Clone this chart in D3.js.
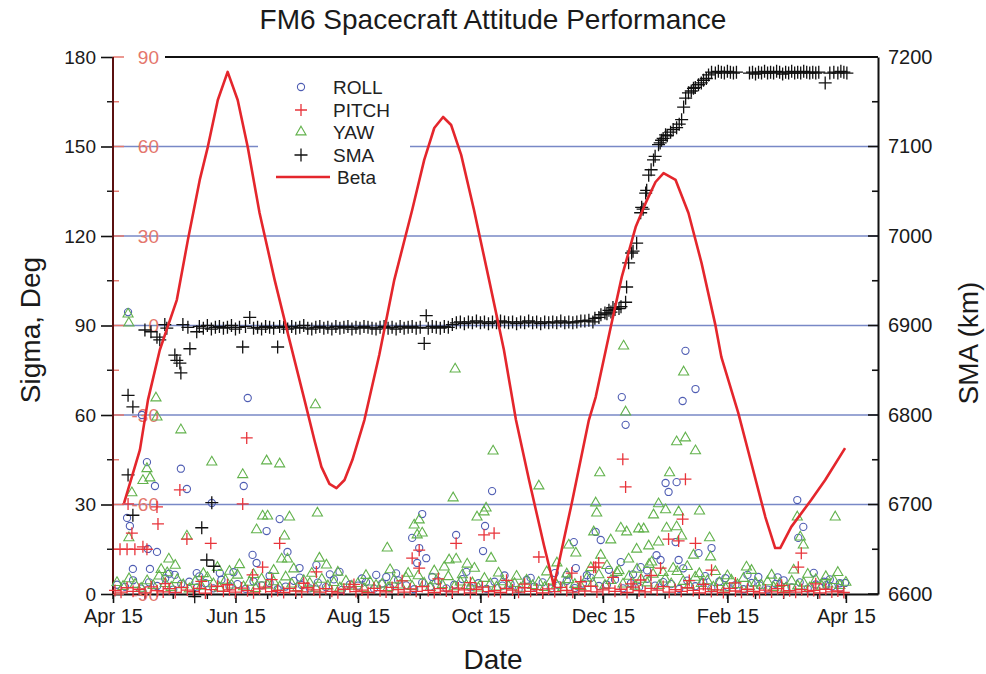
<!DOCTYPE html>
<html>
<head>
<meta charset="utf-8">
<script src="https://cdn.jsdelivr.net/npm/d3@7"></script>
<style>
  body { margin: 0; background: #fff; }
  svg { display: block; }
  text { font-family: "Liberation Sans", Arial, Helvetica, sans-serif; }
</style>
</head>
<body>
<svg id="chart" width="986" height="674"></svg>
<script>
// ---- Data -------------------------------------------------------------
// Day offsets are counted from the first date of the time axis (Apr 15).
const axisStart = "2009-04-15";
const axisEnd = "2010-05-01";
const xTickDates = ["2009-04-15", "2009-06-15", "2009-08-15", "2009-10-15", "2009-12-15", "2010-02-15", "2010-04-15"];
const xTickLabels = ["Apr 15", "Jun 15", "Aug 15", "Oct 15", "Dec 15", "Feb 15", "Apr 15"];
const sigmaTicks = [0, 30, 60, 90, 120, 150, 180];
const betaTicks = [-90, -60, -30, 0, 30, 60, 90];
const smaTicks = [6600, 6700, 6800, 6900, 7000, 7100, 7200];

// Beta angle (deg) — [day, beta]
const betaSeries = [
  [5.5, -59.5], [13.4, -41.7], [17.4, -25], [23.3, -8.2], [31.8, 8.6], [37.3, 28.7], [43.2, 48.8],
  [47.2, 59.8], [52.2, 75.6], [57.1, 85], [62.1, 75.6], [67.1, 59.8], [73.0, 37.7], [80.5, 15.3],
  [87.9, -4.9], [95.4, -25], [100.3, -38.4], [103.8, -47.4], [107.8, -53.1], [111.3, -54.5],
  [115.3, -51.8], [119.2, -45.1], [125.2, -31.7], [132.6, -9.9], [140.1, 15.3], [149.0, 38.7],
  [155.0, 55.5], [160.0, 66.2], [164.4, 69.9], [168.4, 67.2], [173.4, 57.2], [179.8, 38.7],
  [187.3, 15.3], [194.7, -8.2], [200.7, -31.7], [207.2, -51.8], [214.6, -73.6], [219.6, -87.3],
  [224.5, -71.9], [228.5, -59.5], [237.0, -31.7], [240.4, -24], [247.9, -0.5], [253.4, 16.3],
  [260.3, 33], [265.3, 41.1], [270.2, 48.1], [274.2, 51.1], [280.2, 48.8], [286.6, 37.7],
  [293.1, 21], [300.0, 0.2], [303.0, -10.6], [311.4, -29.3], [317.9, -46.1], [324.9, -64.2],
  [329.8, -74.6], [332.3, -74.6], [337.8, -67.5], [347.7, -58.5], [354.7, -51.8], [364.6, -41.1]
];

// Semi-major axis (km) — [day, km]
const smaSeries = [
  [7.5, 6822], [9.9, 6809], [7.5, 6733], [9.9, 6688], [15.9, 6895], [18.9, 6893], [21.9, 6887],
  [23.3, 6884], [25.8, 6901], [26.8, 6897], [30.8, 6867], [31.8, 6861], [33.3, 6858], [33.8, 6847],
  [34.8, 6901], [37.3, 6898], [38.3, 6874], [40.7, 6597], [41.7, 6893], [44.2, 6674], [46.7, 6638],
  [49.2, 6702], [50.2, 6631],
  [43, 6899], [45, 6897], [47, 6900], [49, 6896], [51, 6898], [53, 6899], [55, 6897], [57, 6898],
  [59, 6900], [61, 6896], [63, 6898], [64.6, 6876], [66, 6899], [68.1, 6909], [70, 6897], [72, 6898],
  [74, 6896], [76, 6899], [78, 6898], [80, 6897], [82, 6876], [83, 6899], [85, 6898], [87, 6896],
  [89, 6899], [91, 6897], [93, 6898], [95, 6900], [97, 6897], [99, 6896], [101, 6898], [103, 6899],
  [105, 6897], [107, 6898], [109, 6896], [111, 6899], [113, 6897], [115, 6898], [117, 6899],
  [119, 6896], [121, 6898], [123, 6897], [125, 6899], [127, 6898], [129, 6897], [131, 6896],
  [133, 6898], [135, 6899], [137, 6897], [139, 6898], [141, 6896], [143, 6899], [145, 6897],
  [147, 6898], [149, 6899], [151, 6897], [153, 6898], [155, 6880], [156, 6911], [157, 6897],
  [159, 6899], [161, 6898], [163, 6897], [165, 6899], [167, 6898], [169, 6901],
  [171, 6903], [173, 6904], [175, 6902], [177, 6904], [179, 6903], [181, 6905], [183, 6903],
  [185, 6904], [187, 6902], [189, 6904], [191, 6903], [193, 6905], [195, 6904], [197, 6903],
  [199, 6904], [201, 6902], [203, 6904], [205, 6903], [207, 6905], [209, 6903], [211, 6904],
  [213, 6902], [215, 6904], [217, 6903], [219, 6904], [221, 6903], [223, 6905], [225, 6903],
  [227, 6904], [229, 6903], [231, 6904], [233, 6905],
  [235, 6905], [237, 6906], [239, 6904], [240, 6908], [242, 6909], [243, 6912], [245, 6914],
  [246, 6913], [247, 6917], [248, 6915], [249, 6920], [250, 6918], [252, 6919], [253, 6921],
  [255.3, 6926], [255.8, 6943], [256.8, 6970], [258.3, 6981], [259, 6983], [260.8, 6992],
  [262.8, 7026], [263.3, 7032], [264, 7030], [265.3, 7048], [265.8, 7051], [266.8, 7068],
  [268, 7074], [269.2, 7085], [270, 7089], [271.7, 7102], [272.5, 7104], [273.2, 7107],
  [274, 7109], [275.2, 7113], [276, 7112], [277.7, 7116], [279, 7119], [280.7, 7121], [282, 7125],
  [283.2, 7130], [284.2, 7144], [285.2, 7154], [286.6, 7160], [288, 7162], [289.1, 7165],
  [290, 7166], [291.6, 7169], [293, 7171], [294.1, 7174], [295.5, 7176], [296.6, 7180], [298.1, 7183],
  [300, 7182], [301.5, 7184], [303, 7183], [304.5, 7182], [306, 7184], [307.5, 7183], [309, 7182],
  [310.5, 7183], [317, 7182], [318.5, 7183], [320, 7181], [321.5, 7183], [323, 7182], [324.5, 7184],
  [326, 7182], [327.5, 7183], [329, 7182], [330.5, 7184], [332, 7183], [333.5, 7181], [335, 7183],
  [336.5, 7182], [338, 7184], [339.5, 7182], [341, 7183], [342.5, 7182], [344, 7184], [345.5, 7183],
  [347, 7182], [348.5, 7183], [350, 7182], [351.5, 7183], [354.7, 7171], [357, 7182], [359, 7183],
  [361, 7182], [362.5, 7184], [364, 7183], [365.5, 7182]
];

// Roll sigma (deg) — [day, sigma]
const rollSeries = [
  [7.5, 94.5], [14.4, 60], [16.9, 44.2], [20.9, 36.2], [33.8, 42], [36.8, 35.2], [7.0, 25.5],
  [8.4, 22.8], [9.9, 8.4], [17.4, 15.1], [21.9, 14.1], [18.4, 8.4], [30.8, 6.4], [67.1, 65.7],
  [65.1, 36.2], [49.2, 30.5], [69.5, 13.1], [71.5, 10.4], [76.5, 21.1], [83.0, 25.1], [86.9, 14.1],
  [92.9, 8.7], [101.3, 9.7], [112.8, 7.4], [41.7, 7], [53.2, 7], [188.8, 34.5], [154.0, 26.8],
  [170.9, 19.8], [185.3, 22.8], [184.3, 14.4], [149.0, 18.8], [152.5, 15.4], [156.0, 12],
  [151.5, 10.4], [229.5, 17.4], [230.5, 8.7], [226.0, 6.4], [131.1, 6.4], [136.1, 5.7],
  [285.1, 81.5], [253.4, 66], [283.7, 64.7], [290.1, 68.7], [255.3, 56.7], [275.2, 37.2],
  [280.7, 37.5], [276.7, 34.2], [240.4, 20.8], [242.9, 18.1], [252.9, 10.7], [262.8, 9],
  [270.7, 13], [272.7, 11.4], [280.2, 17.4], [281.7, 11.4], [298.1, 15.4], [291.6, 13.7],
  [321.4, 5.7], [340.8, 31.5], [343.8, 22.5], [341.3, 18.8], [362.1, 2], [364.6, 3.7], [355.2, 3],
  [28, 6.8], [43, 5.9], [60, 7.3], [78, 6.1], [93, 5.5], [108, 6.6], [124, 5.2], [141, 6.9],
  [159, 5.7], [176, 7.4], [195, 6.2], [208, 5.4], [220, 7.0], [236, 6.3], [247, 8.1], [259, 6.6],
  [266, 7.9], [284, 8.6], [295, 6.0], [305, 5.3], [316, 6.4], [331, 5.6], [349, 7.1], [357, 4.9],
  [2, 3.1], [6, 2.4], [10, 4.6], [14, 1.8], [18, 3.9], [22, 2.7], [26, 5.2], [30, 1.5], [34, 3.4],
  [38, 4.1], [42, 2.2], [46, 3.6], [50, 1.9], [54, 4.8], [58, 2.6], [62, 3.3], [66, 1.7], [70, 4.2],
  [74, 2.9], [78, 3.7], [82, 1.6], [86, 2.5], [90, 4.4], [94, 3.0], [98, 1.9], [102, 3.8],
  [106, 2.3], [110, 4.9], [114, 1.4], [118, 3.2], [122, 2.8], [126, 4.0], [130, 1.8], [134, 3.5],
  [138, 2.1], [142, 4.6], [146, 2.9], [150, 1.6], [154, 3.8], [158, 2.4], [162, 4.3], [166, 1.9],
  [170, 3.1], [174, 5.0], [178, 2.2], [182, 3.6], [186, 1.7], [190, 4.1], [194, 2.8], [198, 3.3],
  [202, 1.5], [206, 4.7], [210, 2.5], [214, 3.9], [218, 1.8], [222, 2.9], [226, 4.4], [230, 2.0],
  [234, 3.5], [238, 5.4], [242, 2.7], [246, 3.1], [250, 4.8], [254, 1.9], [258, 3.6], [262, 2.3],
  [266, 5.1], [270, 2.8], [274, 4.0], [278, 3.3], [282, 1.7], [286, 4.5], [290, 2.6], [294, 3.8],
  [298, 1.9], [302, 4.2], [306, 2.4], [310, 3.0], [314, 1.6], [318, 3.7], [322, 2.9], [326, 1.5],
  [330, 3.4], [334, 4.6], [338, 2.2], [342, 3.9], [346, 1.8], [350, 3.2], [354, 4.1], [358, 2.5],
  [362, 3.6]
];

// Pitch sigma (deg) — [day, sigma]
const pitchSeries = [
  [66.6, 52.3], [64.6, 30.2], [33.3, 34.9], [21.9, 29.2], [22.4, 23.5], [7.5, 30.2], [9.4, 20.4],
  [3.5, 15], [7.0, 15], [10.9, 15], [14.9, 15.8], [16.9, 15], [36.8, 18.4], [48.7, 17], [83.0, 17],
  [101.3, 7.4], [74.5, 9], [69.5, 6.4], [212.1, 12.4], [184.8, 19.8], [189.8, 20.4], [170.9, 17],
  [152.5, 14.7], [149.0, 12], [152.5, 8.7], [228.5, 7], [240.4, 9], [253.9, 45.2], [255.3, 35.9],
  [285.1, 38.5], [283.7, 25.1], [276.7, 18.4], [281.7, 17.8], [290.1, 17], [241.9, 10.4],
  [239.4, 9], [272.7, 8.7], [298.1, 8], [262.8, 4.7], [342.8, 13.7], [341.3, 9],
  [26, 3.5], [44, 4.2], [57, 3.1], [79, 4.8], [95, 3.6], [120, 3.2], [144, 4.4], [162, 5.1],
  [178, 3.8], [196, 4.6], [205, 3.3], [233, 4.1], [249, 5.6], [258, 3.4], [268, 6.2], [287, 4.5],
  [294, 3.2], [310, 3.7], [333, 2.9], [350, 3.4],
  [1, 1.2], [4, 0.6], [7, 2.1], [10, 0.9], [13, 1.6], [16, 0.4], [19, 2.4], [22, 1.1], [25, 0.7],
  [28, 1.8], [31, 0.5], [34, 2.2], [37, 1.3], [40, 0.8], [43, 1.9], [46, 0.3], [49, 1.5], [52, 2.6],
  [55, 0.9], [58, 1.4], [61, 0.6], [64, 2.0], [67, 1.1], [70, 0.4], [73, 1.7], [76, 2.3], [79, 0.8],
  [82, 1.2], [85, 0.5], [88, 1.9], [91, 1.0], [94, 0.7], [97, 2.1], [100, 1.4], [103, 0.6],
  [106, 1.8], [109, 0.9], [112, 0.4], [115, 1.6], [118, 2.4], [121, 0.8], [124, 1.3], [127, 0.5],
  [130, 1.9], [133, 1.1], [136, 0.7], [139, 2.2], [142, 1.5], [145, 0.6], [148, 1.7], [151, 0.9],
  [154, 2.5], [157, 1.2], [160, 0.5], [163, 1.8], [166, 1.0], [169, 0.7], [172, 2.0], [175, 1.4],
  [178, 0.4], [181, 1.6], [184, 2.3], [187, 0.8], [190, 1.1], [193, 0.5], [196, 1.9], [199, 1.3],
  [202, 0.6], [205, 2.1], [208, 0.9], [211, 1.5], [214, 0.4], [217, 1.7], [220, 0.8], [223, 2.2],
  [226, 1.2], [229, 0.6], [232, 1.8], [235, 1.0], [238, 2.6], [241, 0.7], [244, 1.4], [247, 2.0],
  [250, 0.9], [253, 1.6], [256, 0.5], [259, 2.3], [262, 1.1], [265, 0.7], [268, 1.9], [271, 1.3],
  [274, 2.5], [277, 0.6], [280, 1.5], [283, 0.9], [286, 2.1], [289, 1.2], [292, 0.4], [295, 1.7],
  [298, 0.8], [301, 1.4], [304, 0.5], [307, 1.9], [310, 1.0], [313, 0.6], [316, 1.6], [319, 0.9],
  [322, 0.4], [325, 1.3], [328, 0.7], [331, 1.8], [334, 0.5], [337, 1.1], [340, 0.6], [343, 1.5],
  [346, 0.8], [349, 1.2], [352, 0.4], [355, 1.6], [358, 0.7], [361, 1.0], [364, 0.5]
];

// Yaw sigma (deg) — [day, sigma]
const yawSeries = [
  [7.5, 93.8], [7.9, 90.8], [21.4, 65.7], [21.9, 59.3], [33.8, 55], [16.9, 42], [14.9, 38],
  [18.4, 38.9], [9.4, 33.9], [7.9, 18.8], [36.8, 19.4], [49.2, 44.2], [64.6, 40], [71.5, 21.5],
  [76.5, 44.6], [83.0, 43.6], [74.5, 26.1], [77.0, 26.1], [87.9, 25.8], [101.8, 27.1],
  [100.8, 63.4], [85.4, 19.4], [84.0, 11.7], [86.9, 11.7], [102.8, 12], [106.3, 9.7], [27.8, 11.7],
  [189.3, 47.9], [170.4, 75.4], [169.4, 32.2], [212.1, 36.2], [185.8, 28.8], [184.8, 27.5],
  [181.3, 25.8], [152.5, 24.8], [150.0, 23.1], [154.0, 20.4], [151.5, 19.8], [136.6, 15.4],
  [188.3, 12], [167.4, 11.4], [170.9, 11.7], [176.4, 10], [230.5, 13.7], [227.0, 16.4],
  [221.1, 10.4], [254.3, 83.1], [284.2, 74.4], [255.3, 61], [280.7, 51], [285.1, 52.3],
  [290.1, 48], [242.4, 40.6], [277.2, 40.6], [240.4, 30.5], [240.9, 27.1], [271.7, 30.2],
  [275.2, 28.2], [281.7, 27.5], [292.1, 27.8], [269.2, 26.5], [239.4, 20.8], [247.9, 18.1],
  [252.9, 22.1], [255.8, 20.8], [261.8, 21.8], [264.3, 21.8], [275.7, 22.1], [280.7, 22.5],
  [283.2, 19.4], [297.1, 18.8], [260.8, 15], [266.8, 16.1], [271.7, 17.4], [256.8, 11.7],
  [268.3, 10.7], [289.1, 13], [297.6, 12.4], [242.9, 13], [315.5, 9], [340.8, 25.8], [359.7, 25.8],
  [342.3, 19.1], [343.8, 16.4],
  [24, 8.2], [27, 7.1], [31, 9.6], [45, 6.8], [52, 8.9], [58, 7.6], [63, 9.8], [70, 6.5], [80, 7.9],
  [90, 8.4], [99, 6.9], [112, 7.3], [126, 6.2], [138, 8.1], [147, 6.9], [160, 7.7], [165, 9.0],
  [174, 6.4], [180, 8.6], [192, 7.0], [201, 5.9], [216, 7.4], [226, 6.7], [238, 8.8], [246, 9.5],
  [252, 7.8], [261, 8.3], [267, 9.9], [274, 7.2], [279, 8.6], [286, 9.2], [292, 6.8], [300, 7.5],
  [306, 6.1], [318, 7.9], [328, 6.3], [339, 8.0], [346, 6.6], [355, 5.8], [361, 7.2],
  [2, 3.8], [5, 2.5], [8, 5.1], [11, 3.2], [14, 1.9], [17, 4.4], [20, 2.8], [23, 6.0], [26, 3.5],
  [29, 2.2], [32, 4.8], [35, 3.1], [38, 1.7], [41, 4.2], [44, 2.6], [47, 5.5], [50, 3.4], [53, 2.0],
  [56, 4.6], [59, 3.0], [62, 6.3], [65, 2.4], [68, 3.9], [71, 1.8], [74, 5.0], [77, 2.9], [80, 4.1],
  [83, 2.3], [86, 5.7], [89, 3.3], [92, 2.1], [95, 4.5], [98, 3.6], [101, 1.9], [104, 4.9],
  [107, 2.7], [110, 3.8], [113, 2.0], [116, 4.3], [119, 2.6], [122, 3.5], [125, 1.8], [128, 4.0],
  [131, 2.9], [134, 3.3], [137, 2.1], [140, 4.7], [143, 3.0], [146, 5.4], [149, 2.5], [152, 6.1],
  [155, 3.6], [158, 2.2], [161, 4.4], [164, 3.1], [167, 5.8], [170, 2.4], [173, 4.0], [176, 2.8],
  [179, 3.7], [182, 2.0], [185, 5.2], [188, 3.4], [191, 2.3], [194, 4.1], [197, 2.7], [200, 3.5],
  [203, 1.9], [206, 4.6], [209, 2.8], [212, 3.9], [215, 2.2], [218, 4.3], [221, 3.0], [224, 2.1],
  [227, 4.8], [230, 3.2], [233, 2.5], [236, 5.3], [239, 3.6], [242, 6.4], [245, 2.9], [248, 4.5],
  [251, 7.2], [254, 3.3], [257, 5.9], [260, 2.6], [263, 4.9], [266, 3.7], [269, 6.6], [272, 2.8],
  [275, 5.0], [278, 3.4], [281, 7.5], [284, 4.2], [287, 2.9], [290, 5.6], [293, 3.5], [296, 4.4],
  [299, 2.3], [302, 3.8], [305, 2.0], [308, 4.6], [311, 3.1], [314, 5.2], [317, 2.4], [320, 3.7],
  [323, 2.9], [326, 4.1], [329, 2.2], [332, 3.5], [335, 1.9], [338, 4.3], [341, 2.7], [344, 3.6],
  [347, 2.0], [350, 4.8], [353, 2.6], [356, 3.3], [359, 4.5], [362, 2.8], [365, 3.9]
];

const legendItems = ["ROLL", "PITCH", "YAW", "SMA", "Beta"];

// ---- Layout & scales ---------------------------------------------------
const svg = d3.select("#chart");
const plot = { left: 113, right: 878, top: 57, bottom: 594 };
const parse = d3.utcParse("%Y-%m-%d");
const t0 = parse(axisStart);
const dayToDate = d => new Date(t0.getTime() + d * 864e5);

const x = d3.scaleUtc().domain([t0, parse(axisEnd)]).range([plot.left, plot.right]);
const ySigma = d3.scaleLinear().domain([0, 180]).range([plot.bottom, plot.top]);
const yBeta = d3.scaleLinear().domain([-90, 90]).range([plot.bottom, plot.top]);
const ySma = d3.scaleLinear().domain([6600, 7200]).range([plot.bottom, plot.top]);

const C = {
  roll: "#4f5db3", pitch: "#e8343b", yaw: "#62b24c", sma: "#111",
  beta: "#e4262c", grid: "#7888c6", betaAxis: "#e4766c", axis: "#111"
};

// ---- Grid lines --------------------------------------------------------
svg.append("g").selectAll("line")
  .data(sigmaTicks.filter(v => v > 0 && v < 180))
  .join("line")
  .attr("x1", plot.left).attr("x2", plot.right)
  .attr("y1", d => ySigma(d)).attr("y2", d => ySigma(d))
  .attr("stroke", C.grid).attr("stroke-width", 1.3);

// legend backdrop
svg.append("rect").attr("x", 258).attr("y", 74).attr("width", 152).attr("height", 116).attr("fill", "#fff");

// ---- Frame & axes -----------------------------------------------------
// top border
svg.append("line").attr("x1", 165).attr("x2", plot.right).attr("y1", plot.top).attr("y2", plot.top)
  .attr("stroke", C.axis).attr("stroke-width", 2);

// bottom (date) axis
const xAxis = d3.axisBottom(x)
  .tickValues(xTickDates.map(parse))
  .tickFormat((d, i) => xTickLabels[i])
  .tickSize(9).tickSizeOuter(0).tickPadding(6);
const gx = svg.append("g").attr("transform", `translate(0,${plot.bottom})`).call(xAxis);
gx.select(".domain").attr("stroke", C.axis).attr("stroke-width", 2);
gx.selectAll(".tick line").attr("stroke", C.axis).attr("stroke-width", 1.6);
gx.selectAll("text").attr("font-size", 20).attr("fill", "#1a1a1a");

// minor date ticks on the 1st and 15th of each month
const minorDates = [];
d3.utcMonth.range(d3.utcMonth.floor(t0), parse(axisEnd)).forEach(m => {
  minorDates.push(m, d3.utcDay.offset(m, 14));
});
svg.append("g").selectAll("line")
  .data(minorDates.filter(d => d >= t0 && d <= parse(axisEnd)))
  .join("line")
  .attr("x1", d => x(d)).attr("x2", d => x(d))
  .attr("y1", plot.bottom).attr("y2", plot.bottom + 5)
  .attr("stroke", C.axis).attr("stroke-width", 1.4);

// left sigma axis (outer ticks)
const yAxisL = d3.axisLeft(ySigma).tickValues(sigmaTicks).tickSize(12).tickSizeOuter(0).tickPadding(5);
const gl = svg.append("g").attr("transform", `translate(${plot.left},0)`).call(yAxisL);
gl.select(".domain").remove();
gl.selectAll(".tick line").attr("stroke", C.axis).attr("stroke-width", 1.6);
gl.selectAll("text").attr("font-size", 19).attr("fill", "#1a1a1a");
svg.append("g").selectAll("line").data([15, 45, 75, 105, 135, 165]).join("line")
  .attr("x1", plot.left - 6).attr("x2", plot.left)
  .attr("y1", d => ySigma(d)).attr("y2", d => ySigma(d))
  .attr("stroke", C.axis).attr("stroke-width", 1.4);

// inner beta axis (red, ticks pointing into the plot)
const betaG = svg.append("g");
betaG.selectAll("line.maj").data(betaTicks).join("line").attr("class", "maj")
  .attr("x1", plot.left).attr("x2", plot.left + 11)
  .attr("y1", d => yBeta(d)).attr("y2", d => yBeta(d))
  .attr("stroke", C.betaAxis).attr("stroke-width", 1.5);
betaG.selectAll("line.min").data([-75, -45, -15, 15, 45, 75]).join("line").attr("class", "min")
  .attr("x1", plot.left).attr("x2", plot.left + 6)
  .attr("y1", d => yBeta(d)).attr("y2", d => yBeta(d))
  .attr("stroke", C.betaAxis).attr("stroke-width", 1.4);
betaG.selectAll("text").data(betaTicks).join("text")
  .attr("x", 159).attr("y", d => yBeta(d)).attr("dy", "0.35em")
  .attr("text-anchor", "end").attr("font-size", 19).attr("fill", C.betaAxis)
  .text(d => d < 0 ? "-" + Math.abs(d) : d);

// left axis line (dark red)
svg.append("line").attr("x1", plot.left).attr("x2", plot.left)
  .attr("y1", plot.top).attr("y2", plot.bottom)
  .attr("stroke", "#5b1010").attr("stroke-width", 2);

// right SMA axis (ticks pointing into the plot)
const yAxisR = d3.axisRight(ySma).tickValues(smaTicks).tickFormat(d3.format("d"))
  .tickSize(0).tickPadding(10);
const gr = svg.append("g").attr("transform", `translate(${plot.right},0)`).call(yAxisR);
gr.select(".domain").attr("stroke", C.axis).attr("stroke-width", 2);
gr.selectAll("text").attr("font-size", 20).attr("fill", "#1a1a1a");
svg.append("g").selectAll("line").data(d3.range(6600, 7201, 50)).join("line")
  .attr("x1", d => plot.right - (d % 100 === 0 ? 10 : 6)).attr("x2", plot.right)
  .attr("y1", d => ySma(d)).attr("y2", d => ySma(d))
  .attr("stroke", C.axis).attr("stroke-width", 1.6);

// ---- Markers ------------------------------------------------------------
const triPath = d3.symbol().type(d3.symbolTriangle).size(44)();
const plusPath = s => `M${-s},0H${s}M0,${-s}V${s}`;

const marks = svg.append("g");
marks.append("g").selectAll("circle").data(rollSeries).join("circle")
  .attr("cx", d => x(dayToDate(d[0]))).attr("cy", d => ySigma(d[1])).attr("r", 3.6)
  .attr("fill", "none").attr("stroke", C.roll).attr("stroke-width", 1.1);
marks.append("g").selectAll("path").data(yawSeries).join("path")
  .attr("d", triPath)
  .attr("transform", d => `translate(${x(dayToDate(d[0]))},${ySigma(d[1])})`)
  .attr("fill", "none").attr("stroke", C.yaw).attr("stroke-width", 1.1);
marks.append("g").selectAll("path").data(pitchSeries).join("path")
  .attr("d", plusPath(6))
  .attr("transform", d => `translate(${x(dayToDate(d[0]))},${ySigma(d[1])})`)
  .attr("fill", "none").attr("stroke", C.pitch).attr("stroke-width", 1.3);
marks.append("g").selectAll("path").data(smaSeries).join("path")
  .attr("d", plusPath(6.5))
  .attr("transform", d => `translate(${x(dayToDate(d[0]))},${ySma(d[1])})`)
  .attr("fill", "none").attr("stroke", C.sma).attr("stroke-width", 1.3);

// beta angle curve
svg.append("path").datum(betaSeries)
  .attr("d", d3.line().x(d => x(dayToDate(d[0]))).y(d => yBeta(d[1])))
  .attr("fill", "none").attr("stroke", C.beta).attr("stroke-width", 2.6)
  .attr("stroke-linejoin", "round");

// ---- Legend --------------------------------------------------------------
const lg = svg.append("g");
const rowY = [87, 110, 132, 155, 177];
lg.append("circle").attr("cx", 301).attr("cy", rowY[0]).attr("r", 3.6)
  .attr("fill", "none").attr("stroke", C.roll).attr("stroke-width", 1.1);
lg.append("path").attr("d", plusPath(6)).attr("transform", `translate(301,${rowY[1]})`)
  .attr("stroke", C.pitch).attr("stroke-width", 1.3);
lg.append("path").attr("d", triPath).attr("transform", `translate(301,${rowY[2]})`)
  .attr("fill", "none").attr("stroke", C.yaw).attr("stroke-width", 1.1);
lg.append("path").attr("d", plusPath(6.5)).attr("transform", `translate(301,${rowY[3]})`)
  .attr("stroke", C.sma).attr("stroke-width", 1.3);
lg.append("line").attr("x1", 276).attr("x2", 330).attr("y1", rowY[4]).attr("y2", rowY[4])
  .attr("stroke", C.beta).attr("stroke-width", 2.6);
lg.selectAll("text").data(legendItems).join("text")
  .attr("x", (d, i) => i === 4 ? 337 : 333).attr("y", (d, i) => rowY[i]).attr("dy", "0.36em")
  .attr("font-size", 19).attr("fill", "#222").text(d => d);

// ---- Titles ------------------------------------------------------------------
svg.append("text").attr("x", 493).attr("y", 29).attr("text-anchor", "middle")
  .attr("font-size", 28).attr("fill", "#1a1a1a").text("FM6 Spacecraft Attitude Performance");
svg.append("text").attr("x", 493).attr("y", 669).attr("text-anchor", "middle")
  .attr("font-size", 28).attr("fill", "#1a1a1a").text("Date");
svg.append("text").attr("transform", "translate(40,330) rotate(-90)").attr("text-anchor", "middle")
  .attr("font-size", 28).attr("fill", "#1a1a1a").text("Sigma, Deg");
svg.append("text").attr("transform", "translate(978,343) rotate(-90)").attr("text-anchor", "middle")
  .attr("font-size", 28).attr("fill", "#1a1a1a").text("SMA (km)");
</script>
</body>
</html>
